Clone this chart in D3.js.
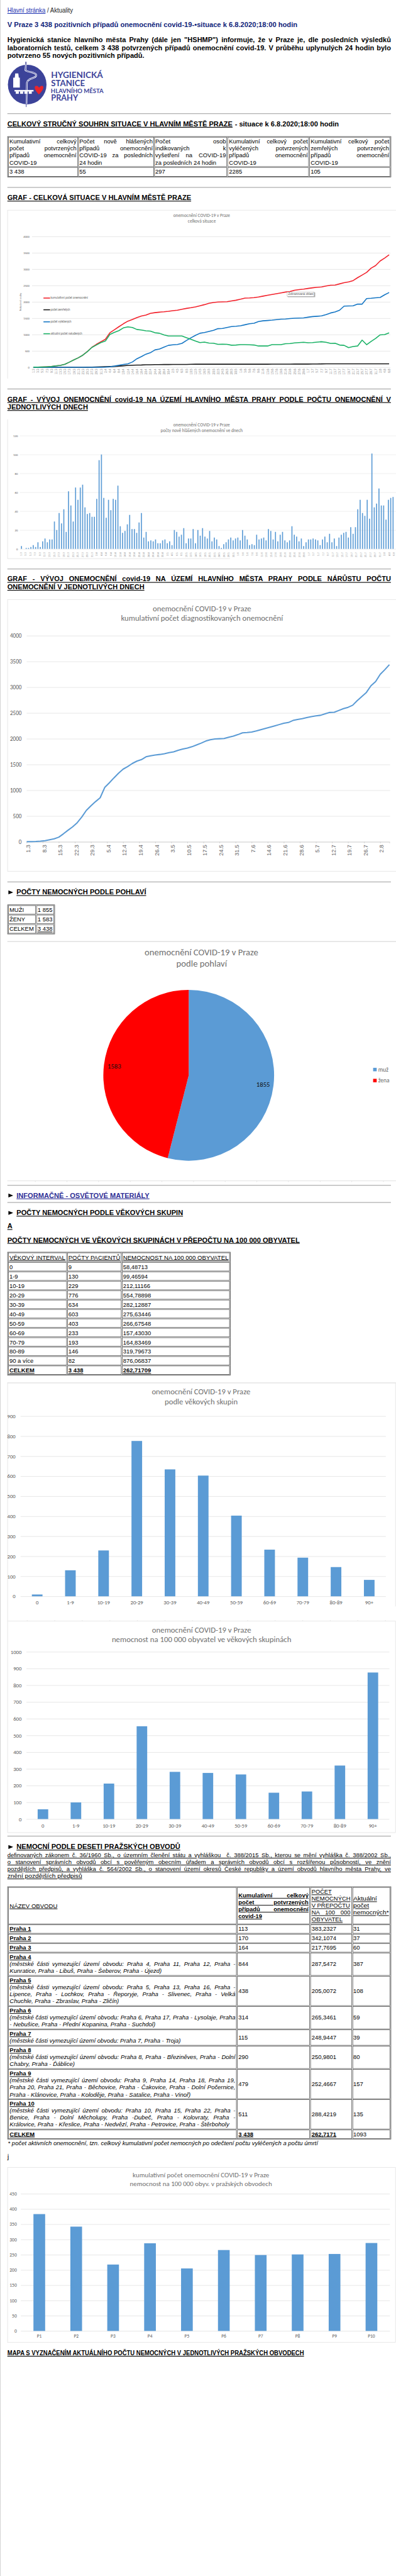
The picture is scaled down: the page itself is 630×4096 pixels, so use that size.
<!DOCTYPE html>
<html><head><meta charset="utf-8">
<style>html,body{margin:0;padding:0;background:#fff}svg{display:block}</style>
<script src="https://cdn.jsdelivr.net/npm/d3@7/dist/d3.min.js"></script>
</head><body>
<script>
// ---------- DATA ----------
const dayLabels2 = ["1.3","3.3","5.3","7.3","9.3","11.3","13.3","15.3","17.3","19.3","21.3","23.3","25.3","27.3","29.3","31.3","2.4","4.4","6.4","8.4","10.4","12.4","14.4","16.4","18.4","20.4","22.4","24.4","26.4","28.4","30.4","2.5","4.5","6.5","8.5","10.5","12.5","14.5","16.5","18.5","20.5","22.5","24.5","26.5","28.5","30.5","1.6","3.6","5.6","7.6","9.6","11.6","13.6","15.6","17.6","19.6","21.6","23.6","25.6","27.6","29.6","1.7","3.7","5.7","7.7","9.7","11.7","13.7","15.7","17.7","19.7","21.7","23.7","25.7","27.7","29.7","31.7","2.8","4.8","6.8"];
const weekLabels = ["1.3","8.3","15.3","22.3","29.3","5.4","12.4","19.4","26.4","3.5","10.5","17.5","24.5","31.5","7.6","14.6","21.6","28.6","5.7","12.7","19.7","26.7","2.8"];
const cumulative = [3,4,7,13,22,41,58,90,155,224,290,370,480,610,700,780,855,1055,1145,1240,1330,1410,1460,1520,1565,1595,1650,1670,1685,1695,1710,1730,1745,1775,1800,1820,1845,1880,1915,1955,1980,1995,2000,2005,2030,2050,2080,2115,2120,2130,2150,2175,2200,2225,2250,2275,2300,2315,2355,2375,2390,2410,2430,2445,2455,2485,2510,2515,2550,2585,2610,2650,2740,2820,2900,3030,3110,3250,3340,3438];
const deaths = [0,0,0,0,0,0,0,0,0,0,0,0,2,5,10,13,16,20,26,35,45,55,60,65,68,75,76,80,82,83,83,84,85,85,85,90,92,92,92,92,92,92,92,92,92,92,92,92,92,92,93,93,93,94,95,95,96,96,97,97,97,98,99,100,103,104,104,104,104,105,105,105,105,105,105,105,105,105,105,105];
const recovered = [0,0,0,0,0,0,0,0,0,0,0,0,0,0,0,0,5,15,35,60,85,105,160,260,325,400,445,530,555,615,670,685,695,730,820,900,975,1040,1060,1095,1130,1180,1185,1215,1245,1255,1270,1300,1330,1345,1400,1420,1430,1440,1455,1470,1475,1490,1500,1505,1510,1530,1550,1560,1570,1610,1660,1690,1745,1870,1875,1880,1930,1930,2100,2110,2125,2135,2215,2285];
const active = [3,4,7,13,22,41,58,90,155,224,290,370,478,605,680,755,800,1005,1065,1120,1205,1235,1215,1155,1140,1115,1105,1055,1040,990,955,955,955,955,905,855,800,755,770,740,735,700,705,700,675,680,690,690,685,680,650,650,650,690,690,690,720,725,745,755,765,750,755,770,780,765,730,735,680,670,600,635,650,830,690,790,880,990,1000,1050];
const seriesNames = ["kumulativní počet onemocnění","počet zemřelých","počet vyléčených","aktuální počet nakažených"];
const dailyNew = [3,0,1,1,2,4,2,7,2,8,11,7,10,10,29,20,38,27,42,18,61,46,29,65,52,65,68,44,37,38,34,34,53,94,100,54,33,52,41,53,52,67,24,17,19,26,36,21,21,17,28,38,12,18,8,9,8,10,6,6,9,10,6,8,4,20,18,13,15,22,6,11,11,21,6,20,14,22,13,11,19,8,12,10,3,1,5,7,10,12,9,11,12,9,20,14,10,4,5,4,15,10,11,12,9,21,19,10,18,8,15,18,9,7,9,24,15,13,8,11,3,7,10,10,11,10,9,4,10,13,7,16,7,11,3,12,15,17,18,12,23,16,23,42,52,38,35,52,32,101,44,48,64,46,46,31,52,54,55];
const genderNames = ["muž","žena"];
const genderValues = [1855,1583];
const ageCats = ["0","1-9","10-19","20-29","30-39","40-49","50-59","60-69","70-79","80-89","90+"];
const ageRows = ["0","1-9","10-19","20-29","30-39","40-49","50-59","60-69","70-79","80-89","90 a více"];
const agePatients = [9,130,229,776,634,603,403,233,193,146,82];
const ageRateText = ["58,48713","99,46594","212,11166","554,78898","282,12887","275,63446","266,67548","157,43030","164,83469","319,79673","876,06837"];
const ageRate = [58.48713,99.46594,212.11166,554.78898,282.12887,275.63446,266.67548,157.4303,164.83469,319.79673,876.06837];
const districtCats = ["P1","P2","P3","P4","P5","P6","P7","P8","P9","P10"];
const districtRate = [383.2327,342.1074,217.7695,287.5472,205.0072,265.3461,248.9447,250.9801,252.4667,288.4219];
const summaryHead = [["Kumulativní celkový","počet potvrzených","případů onemocnění","COVID-19"],["Počet nově hlášených","případů onemocnění","COVID-19 za posledních","24 hodin"],["Počet osob","indikovaných k","vyšetření na COVID-19","za posledních 24 hodin"],["Kumulativní celkový počet","vyléčených potvrzených","případů onemocnění","COVID-19"],["Kumulativní celkový počet","zemřelých potvrzených","případů onemocnění","COVID-19"]];
const summaryVals = ["3 438","55","297","2285","105"];

// ---------- SETUP ----------
const BODY = "'Liberation Sans',Arial,sans-serif", CH = "Carlito,Lato,sans-serif";
const GREY = "#595959", BLUE = "#5b9bd5", GRID = "#e0e0e0", BOX = "#e2e2e2", HR = "#9a9a9a";
const svg = d3.select("body").append("svg").attr("width",630).attr("height",4096)
  .attr("viewBox","0 0 800 5200").attr("preserveAspectRatio","none");
svg.append("rect").attr("width",800).attr("height",5200).attr("fill","#fff");
const X = z => z/1.9475;
const S = (off,ys) => v => off + v/ys;

function txt(s,x,y,o={}){
  const t = svg.append("text").text(s).attr("x",x).attr("y",y)
    .attr("font-family",o.family||BODY).attr("font-size",o.size||12)
    .attr("font-weight",o.bold?"bold":"normal").attr("fill",o.color||"#000")
    .attr("xml:space","preserve").style("white-space","pre");
  if(o.italic) t.attr("font-style","italic");
  if(o.u) t.attr("text-decoration","underline");
  if(o.anchor) t.attr("text-anchor",o.anchor);
  if(o.x2!==undefined){
    const W=o.x2-x, nat=t.node().getComputedTextLength(), sp=(s.match(/ /g)||[]).length;
    if(o.j && sp>0) t.attr("word-spacing",(W-nat)/sp);
    else t.attr("textLength",W).attr("lengthAdjust","spacingAndGlyphs");
  }
  return t;
}
function hline(x1,x2,y,c,w){svg.append("line").attr("x1",x1).attr("x2",x2).attr("y1",y).attr("y2",y).attr("stroke",c||HR).attr("stroke-width",w||1);}
function vline(x,y1,y2,c,w){svg.append("line").attr("x1",x).attr("x2",x).attr("y1",y1).attr("y2",y2).attr("stroke",c||BOX).attr("stroke-width",w||1);}
function rect(x1,y1,x2,y2,c,w){svg.append("rect").attr("x",x1).attr("y",y1).attr("width",x2-x1).attr("height",y2-y1).attr("fill","none").attr("stroke",c||"#555").attr("stroke-width",w||1);}
function hrBar(y){hline(X(29),X(1538),y,HR,1.3);}
function tri(cy){svg.append("path").attr("d",`M${X(33)},${cy-4}L${X(52)},${cy}L${X(33)},${cy+4}Z`).attr("fill","#000");}
function chartTitle(lines){lines.forEach(l=>txt(l[0],X(l[1]),l[3],{x2:X(l[2]),family:CH,size:l[4],color:"#6f6f6f"}));}

// page left rule
vline(0.6,0,5200,"#cfcfcf",1.2);

// ---------- HEADER ----------
{ const y=S(0,3);
  txt("Hlavní stránka",X(29),y(76),{x2:X(179),size:13,color:"#1a2fb0",u:1});
  txt(" / Aktuality",X(179),y(76),{x2:X(287),size:13,color:"#222"});
  txt("V Praze 3 438 pozitivních případů onemocnění covid-19-•situace k 6.8.2020;18:00 hodin",X(29),y(165),{x2:X(1170),size:14,bold:1,color:"#10247a"});
  txt('Hygienická stanice hlavního města Prahy (dále jen "HSHMP") informuje, že v Praze je, dle posledních výsledků',X(29),y(256),{x2:X(1538),j:1,size:14,bold:1});
  txt("laboratorních testů, celkem 3 438 potvrzených případů onemocnění covid-19. V průběhu uplynulých 24 hodin bylo",X(29),y(304),{x2:X(1538),j:1,size:14,bold:1});
  txt("potvrzeno 55 nových pozitivních případů.",X(29),y(352),{x2:X(568),size:14,bold:1});

  // logo
  const LC="#3c4399", g=svg.append("g");
  g.append("ellipse").attr("cx",X(107)).attr("cy",y(512)).attr("rx",X(76)).attr("ry",40).attr("fill",LC);
  g.append("path").attr("d",`M${X(102)},${y(374)}L${X(102)},${y(392)}`).attr("stroke",LC).attr("stroke-width",2);
  g.append("path").attr("d",`M${X(102)},${y(392)}L${X(100)},${y(425)}C${X(110)},${y(440)} ${X(135)},${y(432)} ${X(142)},${y(452)}C${X(146)},${y(478)} ${X(108)},${y(470)} ${X(106)},${y(500)}L${X(104)},${y(630)}`).attr("fill","none").attr("stroke","#fff").attr("stroke-width",3.2);
  g.append("path").attr("d",`M${X(102)},${y(392)}L${X(100)},${y(425)}C${X(110)},${y(440)} ${X(135)},${y(432)} ${X(142)},${y(452)}C${X(146)},${y(478)} ${X(108)},${y(470)} ${X(106)},${y(500)}L${X(103)},${y(648)}`).attr("fill","none").attr("stroke",LC).attr("stroke-width",1.2);
  g.append("path").attr("d",`M${X(52)},${y(530)}L${X(52)},${y(470)}L${X(58)},${y(470)}L${X(60)},${y(445)}L${X(72)},${y(445)}L${X(74)},${y(470)}L${X(78)},${y(470)}L${X(78)},${y(530)}Z`).attr("fill","#fff");
  g.append("rect").attr("x",X(57)).attr("y",y(545)).attr("width",X(75)).attr("height",3).attr("fill","#fff");
  [62,79,96,113].forEach(a=>g.append("rect").attr("x",X(a)).attr("y",y(553)).attr("width",X(12)).attr("height",5).attr("fill","#fff"));
  g.append("path").attr("d",`M${X(153)},${y(572)}C${X(135)},${y(545)} ${X(132)},${y(520)} ${X(143)},${y(520)}C${X(150)},${y(520)} ${X(153)},${y(528)} ${X(154)},${y(532)}C${X(155)},${y(528)} ${X(160)},${y(518)} ${X(166)},${y(520)}C${X(176)},${y(522)} ${X(170)},${y(548)} ${X(153)},${y(572)}Z`).attr("fill","#e8242c");
  const lf="Lato,'Open Sans',sans-serif";
  txt("HYGIENICKÁ",X(201),y(472),{x2:X(405),size:17,bold:1,family:lf,color:LC});
  txt("STANICE",X(201),y(521),{x2:X(334),size:17,bold:1,family:lf,color:LC});
  txt("HLAVNÍHO MĚSTA",X(200),y(563),{x2:X(407),size:13,bold:1,family:lf,color:LC});
  txt("PRAHY",X(201),y(610),{x2:X(307),size:17,bold:1,family:lf,color:LC});

  hrBar(y(688));
  txt("CELKOVÝ STRUČNÝ SOUHRN SITUACE V HLAVNÍM MĚSTĚ PRAZE",X(29),y(765),{x2:X(915),size:14,bold:1,u:1});
  txt("- situace k 6.8.2020;18:00 hodin",X(924),y(765),{x2:X(1333),size:14,bold:1});

  // summary table
  rect(X(30),y(827),X(1538),y(1072),"#444");
  const cols=[[33,306,37,301],[309,605,312,601],[608,892,611,889],[896,1214,901,1211],[1218,1534,1222,1531]];
  cols.forEach((c,i)=>{
    rect(X(c[0]),y(831),X(c[1]),y(1009)); rect(X(c[0]),y(1014),X(c[1]),y(1068));
    summaryHead[i].forEach((line,k)=>{
      const last = (k===summaryHead[i].length-1);
      const o={size:12}; if(!last){o.x2=X(c[3]);o.j=1;}
      txt(line,X(c[2]),y(870+k*42),o);
    });
    txt(summaryVals[i],X(c[2]),y(1053),{size:12});
  });
  hrBar(y(1135));
}

// ---------- CHART 1 ----------
const dayIdx2 = d3.range(dayLabels2.length).map(i=>i*2);
function yAxis(scale,ticks,gx0,gx1,right,size,color){
  const g=svg.append("g").attr("transform",`translate(${gx0},0)`)
    .call(d3.axisLeft(scale).tickValues(ticks).tickSize(-(gx1-gx0)).tickPadding(gx0-right).tickFormat(d3.format("d")));
  g.select(".domain").remove();
  g.selectAll("line").attr("stroke",color||GRID);
  g.selectAll("text").attr("font-family",CH).attr("font-size",size).attr("fill",GREY);
  return g;
}
{ const y=S(380,3);
  txt("GRAF - CELKOVÁ SITUACE V HLAVNÍM MĚSTĚ PRAZE",X(29),y(72),{x2:X(752),size:14,bold:1,u:1});
  hline(X(29),800,y(133),BOX); vline(X(30),y(133),y(1153));
  chartTitle([["onemocnění COVID-19 v Praze",682,905,y(173),9.2],["celková situace",739,849,y(208),9.2]]);
  const ys=d3.scaleLinear().domain([0,4000]).range([y(1084),y(292)]);
  const xs=d3.scaleLinear().domain([0,158]).range([X(131),X(1531)]);
  yAxis(ys,d3.range(0,4001,500),X(126),X(1536),X(116),6);
  const gx=svg.append("g").attr("transform",`translate(0,${y(1084)})`)
    .call(d3.axisBottom(xs).tickValues(dayIdx2).tickSize(0).tickFormat((d,i)=>dayLabels2[i]));
  gx.select(".domain").remove();
  gx.selectAll("text").attr("font-family",BODY).attr("font-size",6).attr("fill","#888")
    .attr("text-anchor","end").attr("x",0).attr("y",0).attr("dy",".35em").attr("transform","translate(0,3) rotate(-90)");
  const line=d3.line().x((d,i)=>xs(dayIdx2[i])).y(d=>ys(d)).curve(d3.curveLinear);
  const seriesData=[cumulative,deaths,recovered,active], cols=["#f2222c","#1a1a1a","#1576c4","#1bb266"];
  seriesData.forEach((s,i)=>svg.append("path").datum(s).attr("d",line).attr("fill","none").attr("stroke",cols[i]).attr("stroke-width",2).attr("stroke-linejoin","round"));
  const ly=[665,736,809,881], lx2=[346,276,281,323];
  seriesNames.forEach((n,i)=>{
    svg.append("line").attr("x1",X(171)).attr("x2",X(197)).attr("y1",y(ly[i])).attr("y2",y(ly[i])).attr("stroke",cols[i]).attr("stroke-width",2);
    txt(n,X(199),y(ly[i])+2,{x2:X(lx2[i]),size:6.5,family:CH,color:"#666"});
  });
  // chart element tooltip of the screenshot
  svg.append("rect").attr("x",X(1132)).attr("y",y(631)).attr("width",X(108)).attr("height",9.5).attr("fill","#aaa");
  svg.append("rect").attr("x",X(1130)).attr("y",y(628)).attr("width",X(106)).attr("height",9).attr("fill","#fff").attr("stroke","#999").attr("stroke-width",.6);
  txt("Zobrazovaná oblast",X(1134),y(647),{x2:X(1233),size:7,family:BODY,color:"#555"});
  svg.append("text").text("Nakažené osoby").attr("transform",`translate(${X(84)},${y(688)}) rotate(-90)`).attr("text-anchor","middle")
    .attr("font-family",CH).attr("font-size",5.5).attr("fill","#777");
}

// ---------- CHART 2 ----------
{ const y=S(780,3);
  hrBar(y(16));
  txt("GRAF - VÝVOJ ONEMOCNĚNÍ covid-19 NA ÚZEMÍ HLAVNÍHO MĚSTA PRAHY PODLE POČTU ONEMOCNĚNÍ V",X(29),y(92),{x2:X(1538),j:1,size:14,bold:1,u:1});
  txt("JEDNOTLIVÝCH DNECH",X(29),y(140),{x2:X(346),size:14,bold:1,u:1});
  vline(X(30),y(200),y(1043)); hline(X(29),X(905),y(1043),BOX);
  chartTitle([["onemocnění COVID-19 v Praze",682,904,y(241),9.2],["počty nově hlášených onemocnění ve dnech",632,955,y(275),9.2]]);
  const ys=d3.scaleLinear().domain([0,120]).range([y(984),y(298)]);
  yAxis(ys,d3.range(0,121,20),X(78),X(1558),X(70),6,"#eaeaea");
  const xb=d3.scaleBand().domain(d3.range(dailyNew.length)).range([X(82)-2.4,X(1549)+2.4]).padding(.56);
  svg.append("g").selectAll("rect").data(dailyNew).join("rect")
    .attr("x",(d,i)=>xb(i)).attr("width",xb.bandwidth()).attr("y",d=>ys(d)).attr("height",d=>ys(0)-ys(d)).attr("fill",BLUE);
  const gx=svg.append("g").attr("transform",`translate(0,${y(984)})`)
    .call(d3.axisBottom(d3.scaleLinear().domain([0,158]).range([X(82),X(1549)])).tickValues(dayIdx2).tickSize(0).tickFormat((d,i)=>dayLabels2[i]));
  gx.select(".domain").remove();
  gx.selectAll("text").attr("font-family",BODY).attr("font-size",5).attr("fill","#888")
    .attr("text-anchor","end").attr("x",0).attr("y",0).attr("dy",".35em").attr("transform","translate(0,7) rotate(-90)");
  hrBar(y(1106));
  txt("GRAF - VÝVOJ ONEMOCNĚNÍ covid-19 NA ÚZEMÍ HLAVNÍHO MĚSTA PRAHY PODLE NÁRŮSTU POČTU",X(29),y(1181),{x2:X(1538),j:1,size:14,bold:1,u:1});
  txt("ONEMOCNĚNÍ V JEDNOTLIVÝCH DNECH",X(29),y(1229),{x2:X(568),size:14,bold:1,u:1});
}

// ---------- CHART 3 ----------
{ const y=S(1180,2.8), y2=S(1720,2.703);
  hline(X(29),800,y(85),BOX); vline(X(30),y(85),y2(105)); hline(X(29),800,y2(105),BOX);
  chartTitle([["onemocnění COVID-19 v Praze",601,988,y(150),16],["kumulativní počet diagnostikovaných onemocnění",476,1113,y(206),16]]);
  const ys=d3.scaleLinear().domain([0,4000]).range([y(1454),y(289)]);
  const xs=d3.scaleLinear().domain([0,158]).range([X(105),X(1532)]);
  yAxis(ys,d3.range(0,4001,500),X(105),X(1535),X(85),11.5);
  const gx=svg.append("g").attr("transform",`translate(0,${y(1454)})`)
    .call(d3.axisBottom(xs).tickValues(weekLabels.map((d,i)=>i*7)).tickSize(3).tickFormat((d,i)=>weekLabels[i]));
  gx.select(".domain").attr("stroke","#ccc");
  gx.selectAll("line").attr("stroke","#ccc");
  gx.selectAll("text").attr("font-family",BODY).attr("font-size",11.5).attr("fill","#666")
    .attr("text-anchor","end").attr("x",0).attr("y",0).attr("dy",".35em").attr("transform","translate(2.5,6) rotate(-90)");
  const line=d3.line().x((d,i)=>xs(dayIdx2[i])).y(d=>ys(d));
  svg.append("path").datum(cumulative).attr("d",line).attr("fill","none").attr("stroke",BLUE).attr("stroke-width",2.6).attr("stroke-linejoin","round");
}

// ---------- GENDER ----------
{ const y=S(1720,2.703);
  hrBar(y(163));
  tri(y(220));
  txt("POČTY NEMOCNÝCH PODLE POHLAVÍ",X(65),y(232),{x2:X(575),size:14,bold:1,u:1});
  rect(X(30),y(288),X(215),y(447),"#444");
  const rows=[["MUŽI","1 855",292,339,328],["ŽENY","1 583",344,390,379],["CELKEM","3 438",396,443,431]];
  rows.forEach((r,i)=>{
    rect(X(33),y(r[2]),X(140),y(r[3]));rect(X(144),y(r[2]),X(212),y(r[3]));
    txt(r[0],X(37),y(r[4]),{size:12});
    txt(r[1],X(148),y(r[4]),{size:12,u:i===2});
  });
  hline(X(29),800,y(488),"#c4c4c4");
  chartTitle([["onemocnění COVID-19 v Praze",569,1016,y(562),18.5],["podle pohlaví",694,893,y(624),18.5]]);
  const cx=X(742.5), cy=y(1218), R=172.5;
  const pie=d3.pie().sort(null)(genderValues), arc=d3.arc().innerRadius(0).outerRadius(R);
  const colors=[BLUE,"#ff0000"];
  const gp=svg.append("g").attr("transform",`translate(${cx},${cy})`);
  gp.selectAll("path").data(pie).join("path").attr("d",arc).attr("fill",(d,i)=>colors[i]);
  gp.selectAll("text").data(pie).join("text").text(d=>d.value)
    .attr("transform",d=>{const a=(d.startAngle+d.endAngle)/2;return `translate(${Math.sin(a)*(R-21)},${-Math.cos(a)*(R-21)})`;})
    .attr("text-anchor","middle").attr("dy",".35em").attr("font-family",CH).attr("font-size",13.5).attr("fill","#111");
  genderNames.forEach((n,i)=>{
    const yy=y(1187+i*60);
    svg.append("rect").attr("x",X(1468)).attr("y",yy-3.6).attr("width",X(14)).attr("height",7).attr("fill",colors[i]);
    txt(n,X(1488),yy+4,{x2:X(n==="muž"?1528:1532),family:CH,size:12,color:"#666"});
  });
}

// ---------- AGE TABLE ----------
{ const y=S(2280,3);
  hline(X(29),800,y(311),"#dcdcdc");
  d3.range(12).forEach(i=>vline(X(139+i*124.5),y(311),y(318),"#dcdcdc"));
  hrBar(y(338));
  tri(y(400));
  txt("INFORMAČNĚ - OSVĚTOVÉ MATERIÁLY",X(65),y(414),{x2:X(588),size:14,bold:1,u:1,color:"#2f2f96"});
  hrBar(y(442));
  tri(y(505));
  txt("POČTY NEMOCNÝCH PODLE VĚKOVÝCH SKUPIN",X(65),y(519),{x2:X(720),size:14,bold:1,u:1});
  txt("A",X(29),y(600),{size:14,bold:1,u:1});
  txt("POČTY NEMOCNÝCH VE VĚKOVÝCH SKUPINÁCH V PŘEPOČTU NA 100 000 OBYVATEL",X(29),y(684),{x2:X(1179),size:14,bold:1,u:1});
  rect(X(30),y(743),X(906),y(1488),"#444");
  const cols=[[33,262,37],[266,477,269],[481,903,484]];
  const rows=[["VĚKOVÝ INTERVAL","POČTY PACIENTŮ","NEMOCNOST NA 100 000 OBYVATEL"]];
  ageRows.forEach((a,i)=>rows.push([a,agePatients[i].toString(),ageRateText[i]]));
  rows.push(["CELKEM","3 438","262,71709"]);
  const widths=[[257,473,899]];
  rows.forEach((r,k)=>{
    const top=k===0?747:805+(k-1)*57, bot=k===0?800:top+52, base=k===0?787:845+(k-1)*57;
    const h=k===0, last=k===rows.length-1;
    r.forEach((c,j)=>{
      rect(X(cols[j][0]),y(top),X(cols[j][1]),y(bot));
      const o={size:12,u:h||last,bold:last};
      if(h) o.x2=X(widths[0][j]);
      txt(c,X(cols[j][2]),y(base),o);
    });
  });
  hline(X(29),800,y(1535),"#dcdcdc");
}

// ---------- AGE BAR CHARTS ----------
function barChart(o){
  const ys=d3.scaleLinear().domain([0,o.max]).range([o.y0,o.y1]);
  yAxis(ys,d3.range(0,o.max+1,o.step),o.gx0,o.gx1,o.right,o.fs);
  const xb=d3.scaleBand().domain(o.cats).range([o.gx0,o.gx1]).paddingInner(o.pad).paddingOuter(o.pad/2);
  svg.append("g").selectAll("rect").data(o.vals).join("rect")
    .attr("x",(d,i)=>xb(o.cats[i])).attr("width",xb.bandwidth()).attr("y",d=>ys(d)).attr("height",d=>o.y0-ys(d)).attr("fill",BLUE);
  const gx=svg.append("g").attr("transform",`translate(0,${o.y0})`).call(d3.axisBottom(xb).tickSize(0));
  gx.select(".domain").remove();
  gx.selectAll("text").attr("font-family",CH).attr("font-size",o.fs).attr("fill",GREY).attr("y",o.lab-o.y0).attr("dy",0);
}
{ const y=S(2780,3);
  hline(X(29),X(1556),y(34),BOX); vline(X(30),y(34),y(1477)); vline(X(1556),y(34),y(1388));
  chartTitle([["onemocnění COVID-19 v Praze",597,985,y(105),16],["podle věkových skupin",648,935,y(165),16]]);
  barChart({cats:ageCats,vals:agePatients,max:900,step:100,y0:y(1327),y1:y(236),gx0:X(81),gx1:X(1518),right:X(61),fs:11,pad:.68,lab:y(1375)});
  hline(X(29),X(1556),y(1477),BOX);
  d3.range(14).forEach(i=>vline(X(107+i*108.4),y(1472),y(1477),"#dcdcdc"));
}
{ const y=S(3280,3), y0=S(2780,3);
  vline(X(30),y0(1477),y(1258)); vline(X(1556),y0(1477),y(1258)); hline(X(29),X(1556),y(1258),BOX);
  chartTitle([["onemocnění COVID-19 v Praze",598,988,y(47),16],["nemocnost na 100 000 obyvatel ve věkových skupinách",440,1146,y(105),16]]);
  barChart({cats:ageCats,vals:ageRate,max:1000,step:100,y0:y(1176),y1:y(163),gx0:X(104),gx1:X(1532),right:X(85),fs:11,pad:.68,lab:y(1226)});
  hrBar(y(1279));
  tri(y(1345));
  txt("NEMOCNÍ PODLE DESETI PRAŽSKÝCH OBVODŮ",X(65),y(1358),{x2:X(709),size:14,bold:1,u:1});
  const lines=["definovaných zákonem č. 36/1960 Sb., o územním členění státu a vyhláškou  č. 388/2015 Sb., kterou se mění vyhláška č. 388/2002 Sb.,","o stanovení správních obvodů obcí s pověřeným obecním úřadem a správních obvodů obcí s rozšířenou působností, ve znění","pozdějších předpisů, a vyhláška č. 564/2002 Sb., o stanovení území okresů České republiky a území obvodů hlavního města Prahy, ve"];
  lines.forEach((l,i)=>txt(l,X(29),y(1407+i*42),{x2:X(1538),j:1,size:12,u:1}));
  txt("znění pozdějších předpisů",X(29),y(1533),{x2:X(323),size:12,u:1});
}

// ---------- DISTRICT TABLE ----------
{ const y=S(3780,3), y2=S(4280,3);
  rect(X(30),y(86),X(1538),y2(114),"#444");
  const cx=[[33,930],[934,1218],[1222,1384],[1388,1534]];
  const tx=[38,938,1226,1390];
  const rowsY=[[90,311],[316,368],[373,425],[430,482],[487,623],[628,806],[811,947],[952,1046],[1051,1187],[1192,1370],[1375,1553],[1559,1611]];
  rowsY.forEach(r=>cx.forEach(c=>rect(X(c[0]),y(r[0]),X(c[1]),y(r[1]))));
  txt("NÁZEV OBVODU",X(38),y(214),{x2:X(226),size:12,u:1});
  [["Kumulativní celkový",150,1],["počet potvrzených",192,1],["případů onemocnění",234,1],["covid-19",276,0]].forEach(l=>{
    const o={size:12,bold:1,u:1}; o.x2=X(l[2]?1214:1031); o.j=l[2]; txt(l[0],X(938),y(l[1]),o);
  });
  [["POČET",129,1305,0],["NEMOCNÝCH",171,1379,0],["V PŘEPOČTU",213,1377,0],["NA 100 000",255,1379,1],["OBYVATEL",297,1348,0]].forEach(l=>txt(l[0],X(1226),y(l[1]),{x2:X(l[2]),j:l[3],size:12,u:1}));
  [["Aktuální",171,1483],["počet",213,1452],["nemocných*",255,1530]].forEach(l=>txt(l[0],X(1390),y(l[1]),{x2:X(l[2]),size:12,u:1}));

  const P="(městské části vymezující území obvodu: ";
  const rows=[
    ["Praha 1",353,[],353,"113","383,2327","31"],
    ["Praha 2",410,[],410,"170","342,1074","37"],
    ["Praha 3",467,[],467,"164","217,7695","60"],
    ["Praha 4",524,[[P+"Praha 4, Praha 11, Praha 12, Praha -",1],["Kunratice, Praha - Libuš, Praha - Šeberov, Praha - Újezd)",0,636]],566,"844","287,5472","387"],
    ["Praha 5",665,[[P+"Praha 5, Praha 13, Praha 16, Praha -",1],["Lipence, Praha - Lochkov, Praha - Řeporyje, Praha - Slivenec, Praha - Velká",1],["Chuchle, Praha - Zbraslav, Praha - Zličín)",0,468]],728,"438","205,0072","108"],
    ["Praha 6",848,[[P+"Praha 6, Praha 17, Praha - Lysolaje, Praha",1],["- Nebušice, Praha - Přední Kopanina, Praha - Suchdol)",0,611]],890,"314","265,3461","59"],
    ["Praha 7",989,[[P+"Praha 7, Praha - Troja)",0,711]],1010,"115","248,9447","39"],
    ["Praha 8",1089,[[P+"Praha 8, Praha - Březiněves, Praha - Dolní",1],["Chabry, Praha - Ďáblice)",0,294]],1130,"290","250,9801","80"],
    ["Praha 9",1230,[[P+"Praha 9, Praha 14, Praha 18, Praha 19,",1],["Praha 20, Praha 21, Praha - Běchovice, Praha - Čakovice, Praha - Dolní Počernice,",1],["Praha - Klánovice, Praha - Koloděje, Praha - Satalice, Praha - Vinoř)",0,750]],1292,"479","252,4667","157"],
    ["Praha 10",1412,[[P+"Praha 10, Praha 15, Praha 22, Praha -",1],["Benice, Praha - Dolní Měcholupy, Praha -Dubeč, Praha - Kolovraty, Praha -",1],["Královice, Praha - Křeslice, Praha - Nedvězí, Praha - Petrovice, Praha - Štěrboholy",0,902]],1475,"511","288,4219","135"]
  ];
  rows.forEach(r=>{
    txt(r[0],X(38),y(r[1]),{size:12,bold:1,u:1});
    r[2].forEach((l,i)=>{
      const o={size:12,italic:1}; if(l[1]){o.x2=X(926);o.j=1;} else if(l[2]) o.x2=X(l[2]);
      txt(l[0],X(38),y(r[1]+42*(i+1)),o);
    });
    [4,5,6].forEach((k,j)=>txt(r[k],X(tx[j+1]),y(r[3]),{size:12}));
  });
  txt("CELKEM",X(38),y2(96),{size:12,bold:1,u:1});
  txt("3 438",X(938),y2(96),{size:12,bold:1,u:1});
  txt("262,7171",X(1226),y2(96),{size:12,bold:1,u:1});
  txt("1093",X(1390),y2(96),{size:12});
  txt("* počet aktivních onemocnění, tzn. celkový kumulativní počet nemocných po odečtení počtu vyléčených a počtu úmrtí",X(31),y2(150),{x2:X(1251),size:12,italic:1});
  txt("j",X(29),y2(235),{size:14});
}

// ---------- DISTRICT CHART ----------
{ const y=S(4280,3);
  hline(X(29),X(1556),y(286),BOX); hline(X(29),X(1556),y(1345),BOX);
  vline(X(30),y(286),y(1345)); vline(X(1556),y(286),y(1345));
  chartTitle([["kumulativní počet onemocnění COVID-19 v Praze",522,1059,y(347),14],["nemocnost na 100 000 obyv. v pražských obvodech",511,1070,y(398),14]]);
  barChart({cats:districtCats,vals:districtRate,max:450,step:50,y0:y(1276),y1:y(445),gx0:X(82),gx1:X(1534),right:X(66),fs:9.5,pad:.683,lab:y(1317)});
  txt("MAPA S VYZNAČENÍM AKTUÁLNÍHO POČTU NEMOCNÝCH V JEDNOTLIVÝCH PRAŽSKÝCH OBVODECH",X(29),y(1423),{x2:X(1196),size:14,bold:1,u:1});
}
</script>
</body></html>
